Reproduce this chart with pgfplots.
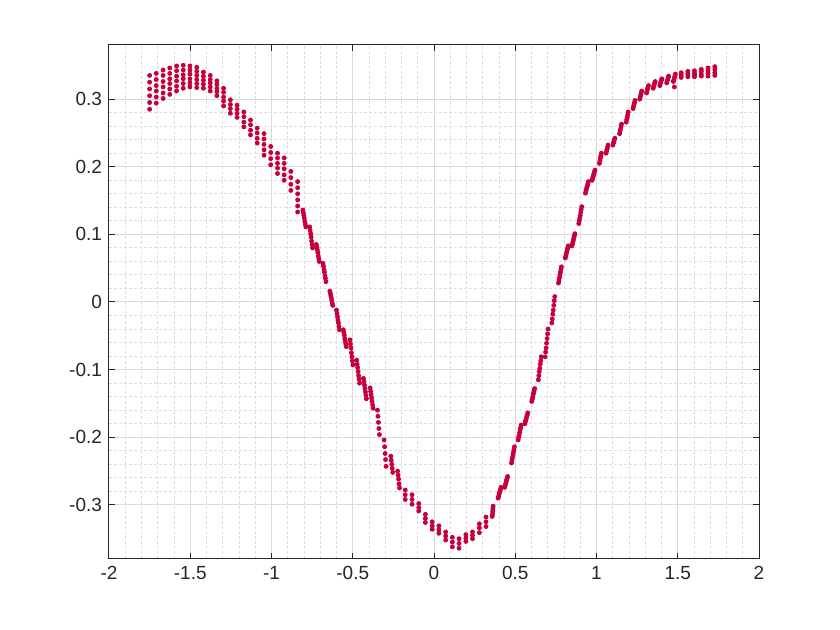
\documentclass[border=0pt]{standalone}
\usepackage{fontspec}
\setmainfont{Liberation Sans}
\usepackage{pgfplots}
\pgfplotsset{compat=1.18}
\definecolor{axc}{RGB}{38,38,38}
\definecolor{gmaj}{RGB}{218,218,218}
\definecolor{gmin}{RGB}{222,222,222}
\definecolor{dotc}{RGB}{198,0,58}
\begin{document}
\begin{tikzpicture}
\begin{axis}[
  scale only axis,
  width=325pt, height=257pt,
  xmin=-2, xmax=2, ymin=-0.38, ymax=0.38,
  xtick={-2,-1.5,-1,-0.5,0,0.5,1,1.5,2},
  ytick={-0.3,-0.2,-0.1,0,0.1,0.2,0.3},
  minor x tick num=4, minor y tick num=4,
  grid=both,
  major grid style={gmaj, line width=0.5pt},
  minor grid style={gmin, line width=0.5pt, dash pattern=on 1.5pt off 1pt},
  tick align=inside, tick pos=both,
  major tick length=3.2pt, minor tick length=0pt,
  axis line style={axc, line width=0.5pt},
  tick style={axc, line width=0.5pt},
  every tick label/.append style={font=\fontsize{9.5}{11}\selectfont, text=axc},
  /pgf/number format/assume math mode=true,
  /pgf/number format/fixed,
  /pgf/number format/precision=1,
]
\addplot[only marks, mark=*, mark size=1.0pt, color=dotc, mark options={draw=dotc, fill=dotc}] table[row sep=\\] {
x y\\
-1.750 0.335\\ -1.750 0.325\\ -1.750 0.315\\ -1.750 0.305\\ -1.750 0.295\\ -1.750 0.285\\
-1.709 0.338\\ -1.709 0.329\\ -1.709 0.320\\ -1.709 0.312\\ -1.709 0.303\\ -1.709 0.294\\
-1.667 0.343\\ -1.667 0.335\\ -1.667 0.326\\ -1.667 0.318\\ -1.667 0.309\\ -1.667 0.301\\
-1.626 0.346\\ -1.626 0.338\\ -1.626 0.330\\ -1.626 0.323\\ -1.626 0.315\\ -1.626 0.307\\
-1.584 0.349\\ -1.584 0.342\\ -1.584 0.334\\ -1.584 0.327\\ -1.584 0.319\\ -1.584 0.312\\
-1.543 0.350\\ -1.543 0.343\\ -1.543 0.336\\ -1.543 0.330\\ -1.543 0.323\\ -1.543 0.316\\
-1.502 0.349\\ -1.502 0.343\\ -1.502 0.337\\ -1.502 0.330\\ -1.502 0.324\\ -1.502 0.318\\
-1.460 0.347\\ -1.460 0.341\\ -1.460 0.335\\ -1.460 0.329\\ -1.460 0.323\\ -1.460 0.317\\
-1.419 0.340\\ -1.419 0.334\\ -1.419 0.328\\ -1.419 0.322\\ -1.419 0.316\\
-1.377 0.335\\ -1.377 0.329\\ -1.377 0.324\\ -1.377 0.318\\ -1.377 0.312\\
-1.336 0.327\\ -1.336 0.322\\ -1.336 0.316\\ -1.336 0.311\\ -1.336 0.305\\
-1.295 0.316\\ -1.295 0.310\\ -1.295 0.303\\ -1.295 0.297\\ -1.295 0.290\\
-1.253 0.299\\ -1.253 0.292\\ -1.253 0.286\\ -1.253 0.279\\
-1.212 0.291\\ -1.212 0.285\\ -1.212 0.279\\ -1.212 0.273\\
-1.170 0.281\\ -1.170 0.274\\ -1.170 0.266\\ -1.170 0.259\\
-1.129 0.269\\ -1.129 0.262\\ -1.129 0.254\\ -1.129 0.247\\
-1.088 0.257\\ -1.088 0.250\\ -1.088 0.242\\ -1.088 0.235\\
-1.046 0.249\\ -1.046 0.241\\ -1.046 0.233\\ -1.046 0.225\\ -1.046 0.217\\
-1.005 0.230\\ -1.005 0.221\\ -1.005 0.212\\ -1.005 0.203\\
-0.963 0.220\\ -0.963 0.213\\ -0.963 0.205\\ -0.963 0.198\\ -0.963 0.190\\
-0.922 0.213\\ -0.922 0.205\\ -0.922 0.197\\ -0.922 0.188\\ -0.922 0.180\\
-0.881 0.193\\ -0.881 0.184\\ -0.881 0.174\\ -0.881 0.165\\
-0.839 0.178\\ -0.839 0.169\\ -0.839 0.160\\ -0.839 0.151\\ -0.839 0.142\\ -0.839 0.133\\
-0.807 0.136\\ -0.804 0.132\\ -0.801 0.128\\ -0.798 0.124\\ -0.795 0.119\\ -0.792 0.115\\ -0.789 0.111\\
-0.765 0.111\\ -0.762 0.106\\ -0.759 0.101\\ -0.756 0.096\\ -0.753 0.090\\ -0.750 0.085\\ -0.747 0.080\\
-0.724 0.085\\ -0.721 0.081\\ -0.718 0.077\\ -0.715 0.073\\ -0.712 0.068\\ -0.709 0.064\\ -0.706 0.060\\
-0.683 0.057\\ -0.680 0.053\\ -0.677 0.048\\ -0.674 0.044\\ -0.671 0.039\\ -0.668 0.035\\ -0.665 0.030\\
-0.641 0.016\\ -0.638 0.013\\ -0.635 0.009\\ -0.632 0.006\\ -0.629 0.002\\ -0.626 -0.002\\ -0.623 -0.005\\
-0.600 -0.012\\ -0.597 -0.017\\ -0.594 -0.022\\ -0.591 -0.027\\ -0.588 -0.031\\ -0.585 -0.036\\ -0.582 -0.041\\
-0.558 -0.041\\ -0.555 -0.045\\ -0.552 -0.049\\ -0.549 -0.054\\ -0.546 -0.058\\ -0.543 -0.062\\ -0.540 -0.066\\
-0.517 -0.056\\ -0.514 -0.062\\ -0.511 -0.068\\ -0.508 -0.075\\ -0.505 -0.081\\ -0.502 -0.087\\ -0.499 -0.093\\
-0.476 -0.086\\ -0.473 -0.092\\ -0.470 -0.097\\ -0.467 -0.103\\ -0.464 -0.109\\ -0.461 -0.114\\ -0.458 -0.120\\
-0.434 -0.113\\ -0.431 -0.118\\ -0.428 -0.123\\ -0.425 -0.128\\ -0.422 -0.133\\ -0.419 -0.138\\ -0.416 -0.143\\
-0.393 -0.127\\ -0.390 -0.132\\ -0.387 -0.137\\ -0.384 -0.142\\ -0.381 -0.147\\ -0.378 -0.152\\ -0.375 -0.157\\
-0.348 -0.160\\ -0.345 -0.169\\ -0.342 -0.178\\ -0.339 -0.187\\ -0.336 -0.196\\
-0.307 -0.204\\ -0.304 -0.214\\ -0.301 -0.224\\ -0.298 -0.233\\ -0.295 -0.243\\
-0.266 -0.228\\ -0.263 -0.234\\ -0.260 -0.240\\ -0.257 -0.246\\ -0.254 -0.252\\
-0.224 -0.250\\ -0.221 -0.256\\ -0.218 -0.262\\ -0.215 -0.269\\ -0.212 -0.275\\
-0.177 -0.278\\ -0.177 -0.285\\ -0.177 -0.292\\
-0.135 -0.285\\ -0.135 -0.292\\ -0.135 -0.299\\
-0.094 -0.298\\ -0.094 -0.304\\ -0.094 -0.309\\
-0.053 -0.314\\ -0.053 -0.320\\ -0.053 -0.326\\
-0.011 -0.325\\ -0.011 -0.331\\ -0.011 -0.336\\
0.030 -0.331\\ 0.030 -0.337\\ 0.030 -0.342\\
0.072 -0.340\\ 0.072 -0.346\\ 0.072 -0.352\\
0.113 -0.348\\ 0.113 -0.355\\ 0.113 -0.362\\
0.154 -0.350\\ 0.154 -0.357\\ 0.154 -0.364\\
0.196 -0.344\\ 0.196 -0.349\\ 0.196 -0.354\\
0.237 -0.340\\ 0.237 -0.345\\ 0.237 -0.350\\
0.279 -0.328\\ 0.279 -0.334\\ 0.279 -0.341\\
0.320 -0.318\\ 0.320 -0.325\\ 0.320 -0.332\\
0.364 -0.302\\ 0.362 -0.306\\ 0.361 -0.310\\ 0.360 -0.314\\ 0.358 -0.317\\
0.412 -0.274\\ 0.409 -0.277\\ 0.406 -0.280\\ 0.403 -0.282\\ 0.400 -0.285\\ 0.397 -0.288\\ 0.394 -0.290\\
0.453 -0.258\\ 0.450 -0.261\\ 0.447 -0.263\\ 0.444 -0.266\\ 0.441 -0.269\\ 0.438 -0.271\\ 0.435 -0.274\\
0.495 -0.214\\ 0.492 -0.218\\ 0.489 -0.222\\ 0.486 -0.226\\ 0.483 -0.230\\ 0.480 -0.234\\ 0.477 -0.238\\
0.536 -0.182\\ 0.533 -0.186\\ 0.530 -0.189\\ 0.527 -0.193\\ 0.524 -0.197\\ 0.521 -0.200\\ 0.518 -0.204\\
0.577 -0.164\\ 0.574 -0.167\\ 0.571 -0.169\\ 0.568 -0.172\\ 0.565 -0.175\\ 0.562 -0.177\\ 0.559 -0.180\\
0.619 -0.128\\ 0.616 -0.131\\ 0.613 -0.134\\ 0.610 -0.137\\ 0.607 -0.141\\ 0.604 -0.144\\ 0.601 -0.147\\
0.660 -0.081\\ 0.657 -0.087\\ 0.654 -0.092\\ 0.651 -0.098\\ 0.648 -0.103\\ 0.645 -0.109\\ 0.642 -0.115\\
0.702 -0.040\\ 0.699 -0.047\\ 0.696 -0.054\\ 0.693 -0.061\\ 0.690 -0.068\\ 0.687 -0.074\\ 0.684 -0.081\\
0.743 0.008\\ 0.740 0.002\\ 0.737 -0.005\\ 0.734 -0.012\\ 0.731 -0.018\\ 0.728 -0.025\\ 0.725 -0.031\\
0.784 0.052\\ 0.781 0.048\\ 0.778 0.044\\ 0.775 0.040\\ 0.772 0.036\\ 0.769 0.032\\ 0.766 0.028\\
0.826 0.083\\ 0.823 0.080\\ 0.820 0.077\\ 0.817 0.074\\ 0.814 0.071\\ 0.811 0.068\\ 0.808 0.065\\
0.867 0.101\\ 0.864 0.098\\ 0.861 0.095\\ 0.858 0.092\\ 0.855 0.089\\ 0.852 0.086\\ 0.849 0.083\\
0.909 0.141\\ 0.906 0.137\\ 0.903 0.133\\ 0.900 0.128\\ 0.897 0.124\\ 0.894 0.120\\ 0.891 0.116\\
0.950 0.178\\ 0.947 0.175\\ 0.944 0.172\\ 0.941 0.170\\ 0.938 0.167\\ 0.935 0.164\\ 0.932 0.161\\
0.991 0.195\\ 0.988 0.193\\ 0.985 0.190\\ 0.982 0.188\\ 0.979 0.185\\ 0.976 0.183\\ 0.973 0.180\\
1.030 0.220\\ 1.027 0.216\\ 1.024 0.213\\ 1.021 0.209\\ 1.018 0.205\\
1.071 0.232\\ 1.068 0.229\\ 1.065 0.226\\ 1.062 0.223\\ 1.059 0.220\\
1.113 0.242\\ 1.110 0.240\\ 1.107 0.237\\ 1.104 0.235\\ 1.101 0.232\\
1.154 0.263\\ 1.151 0.260\\ 1.148 0.256\\ 1.145 0.253\\ 1.142 0.249\\
1.195 0.281\\ 1.192 0.277\\ 1.189 0.273\\ 1.186 0.270\\ 1.183 0.266\\
1.237 0.298\\ 1.234 0.295\\ 1.231 0.292\\ 1.228 0.289\\ 1.225 0.286\\
1.278 0.312\\ 1.275 0.309\\ 1.272 0.306\\ 1.269 0.303\\ 1.266 0.300\\
1.320 0.320\\ 1.317 0.317\\ 1.314 0.315\\ 1.311 0.312\\ 1.308 0.309\\
1.361 0.326\\ 1.358 0.324\\ 1.355 0.321\\ 1.352 0.319\\ 1.349 0.316\\
1.402 0.330\\ 1.399 0.328\\ 1.396 0.325\\ 1.393 0.323\\ 1.390 0.320\\
1.444 0.334\\ 1.441 0.332\\ 1.438 0.329\\ 1.435 0.327\\ 1.432 0.324\\
1.485 0.337\\ 1.482 0.334\\ 1.479 0.331\\ 1.476 0.328\\ 1.473 0.326\\ 1.479 0.318\\
1.521 0.339\\ 1.521 0.337\\ 1.521 0.334\\ 1.521 0.332\\
1.562 0.341\\ 1.562 0.338\\ 1.562 0.336\\ 1.562 0.333\\
1.603 0.342\\ 1.603 0.339\\ 1.603 0.336\\ 1.603 0.333\\
1.645 0.344\\ 1.645 0.341\\ 1.645 0.337\\ 1.645 0.334\\
1.686 0.346\\ 1.686 0.342\\ 1.686 0.338\\ 1.686 0.334\\
1.728 0.348\\ 1.728 0.344\\ 1.728 0.339\\ 1.728 0.335\\
};
\coordinate (SW) at (rel axis cs:0,0);
\coordinate (NE) at (rel axis cs:1,1);
\end{axis}
\pgfresetboundingbox
\path[use as bounding box] ([xshift=-54.5pt,yshift=-35.5pt]SW) rectangle ([xshift=40.5pt,yshift=22.5pt]NE);
\end{tikzpicture}
\end{document}
